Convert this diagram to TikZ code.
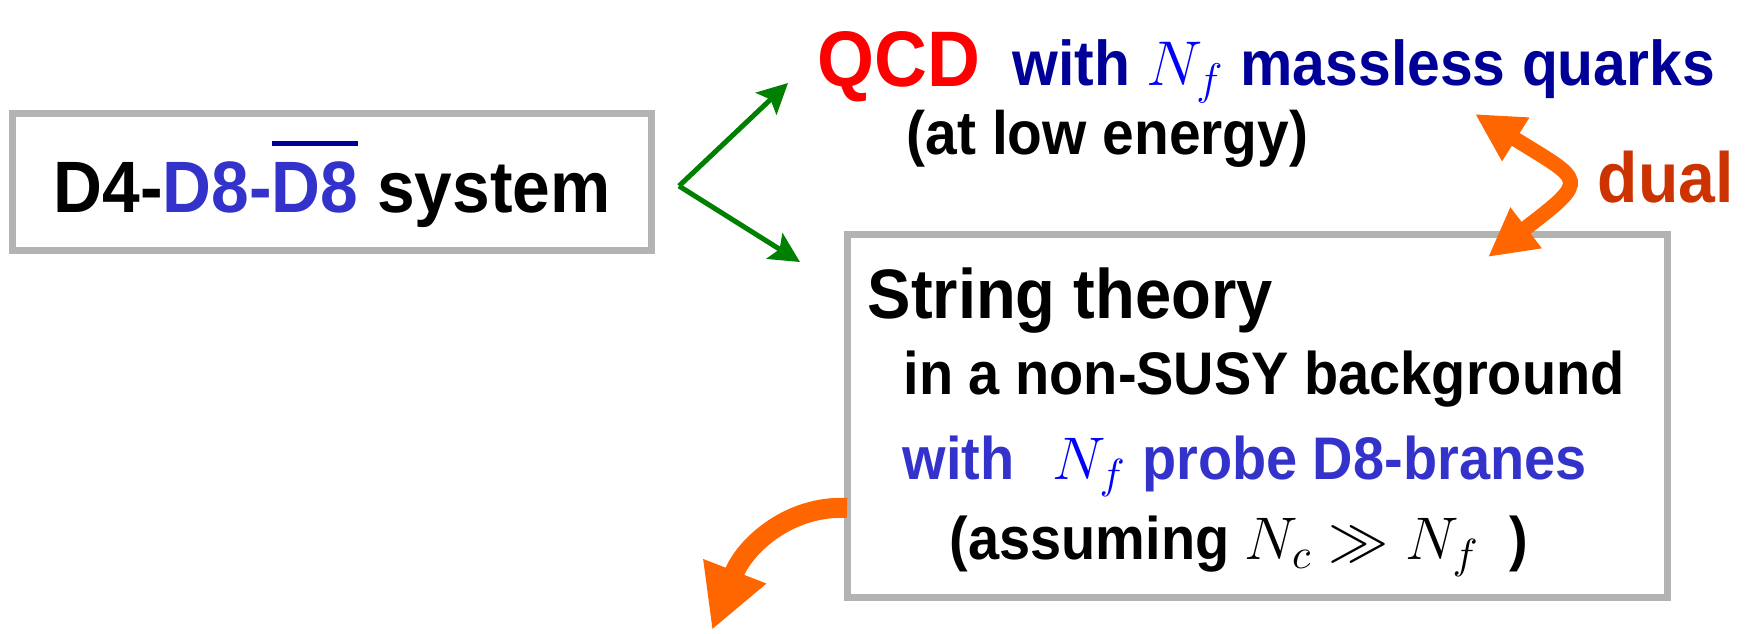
\documentclass[tikz,border=0pt]{standalone}
\usepackage{fix-cm}
\usepackage{fontspec}
\setmainfont{Liberation Sans}[FakeStretch=0.93]
\usepackage{tikz}
\usetikzlibrary{arrows.meta}

\definecolor{framegray}{HTML}{B3B3B3}
\definecolor{arrowgreen}{HTML}{008000}
\definecolor{dualorange}{HTML}{FF6600}
\definecolor{dualred}{HTML}{CC3300}
\definecolor{quarknavy}{HTML}{000099}
\definecolor{braneblue}{HTML}{3333CC}

\newcommand\fsz[1]{\fontsize{#1pt}{#1pt}\selectfont\bfseries}
\newlength\barlen
\newcommand\barred[1]{\settowidth\barlen{#1}\rlap{\textcolor{quarknavy}{\rule[0.66cm]{\barlen}{0.05cm}}}#1}

\tikzset{
  graybox/.style={draw=framegray, line width=0.07cm, inner sep=0pt},
  txt/.style={inner sep=0pt, anchor=base west},
  forkarrow/.style={draw=arrowgreen, line width=0.05cm, -{Stealth[length=0.3cm,width=0.3cm,inset=0.06cm]}},
  dualarrow/.style={draw=dualorange, line width=0.15cm, {Triangle[length=0.48cm,width=0.48cm]}-{Triangle[length=0.48cm,width=0.48cm]}},
  nextarrow/.style={draw=dualorange, line width=0.2cm, -{Triangle[length=0.63cm,width=0.63cm]}}
}

\begin{document}
\begin{tikzpicture}[x=0.01cm, y=-0.01cm]
  \useasboundingbox (0,0) rectangle (1754,633);
  % brane system
  \node[graybox, minimum width=6.38cm, minimum height=1.36cm, text height=0.6cm, text depth=0cm, font=\fsz{20.7}] (sys) at (332,182)
    {D4-\textcolor{braneblue}{D8-\barred{D8}} system};
  % gauge theory side
  \node[txt, font=\fsz{22.4}, text=red] (qcd) at (817,86) {QCD};
  \node[txt, font=\fsz{18}, text=quarknavy] (quarks) at (1012,85) {with \textcolor{blue}{$N_f$} massless quarks};
  \node[txt, font=\fsz{17.4}] (lowe) at (906,154) {(at low energy)};
  \node[txt, font=\fsz{20.2}, text=dualred] (dual) at (1597,202) {dual};
  % string side
  \node[graybox, minimum width=8.19cm, minimum height=3.62cm] (str) at (1257.5,416) {};
  \node[txt, font=\fsz{19.9}] (strth) at (867,318) {String theory};
  \node[txt, font=\fsz{17.1}] (bg) at (903,394) {in a non-SUSY background};
  \node[txt, font=\fsz{17.1}, text=braneblue] (probe) at (902,479) {with\hspace{0.38cm}\textcolor{blue}{$N_f$} probe D8-branes};
  \node[txt, font=\fsz{17.1}] (assume) at (949,559) {(assuming $N_c \gg N_f$\hspace{0.3cm})};
  % arrows
  \coordinate (fork) at (679,186);
  \coordinate (uptip) at (788,83);
  \coordinate (downtip) at (800,262);
  \draw[forkarrow] (fork) -- (uptip);
  \draw[forkarrow] (fork) -- (downtip);
  \coordinate (dtop) at (1475,114);
  \coordinate (dbot) at (1488,257);
  \draw[dualarrow] (dtop) .. controls (1584,182) and (1591,178) .. (dbot);
  \coordinate (exit) at (847,508);
  \coordinate (next) at (712,630);
  \draw[nextarrow] (exit) .. controls (790,505) and (745,545) .. (next);
\end{tikzpicture}
\end{document}
